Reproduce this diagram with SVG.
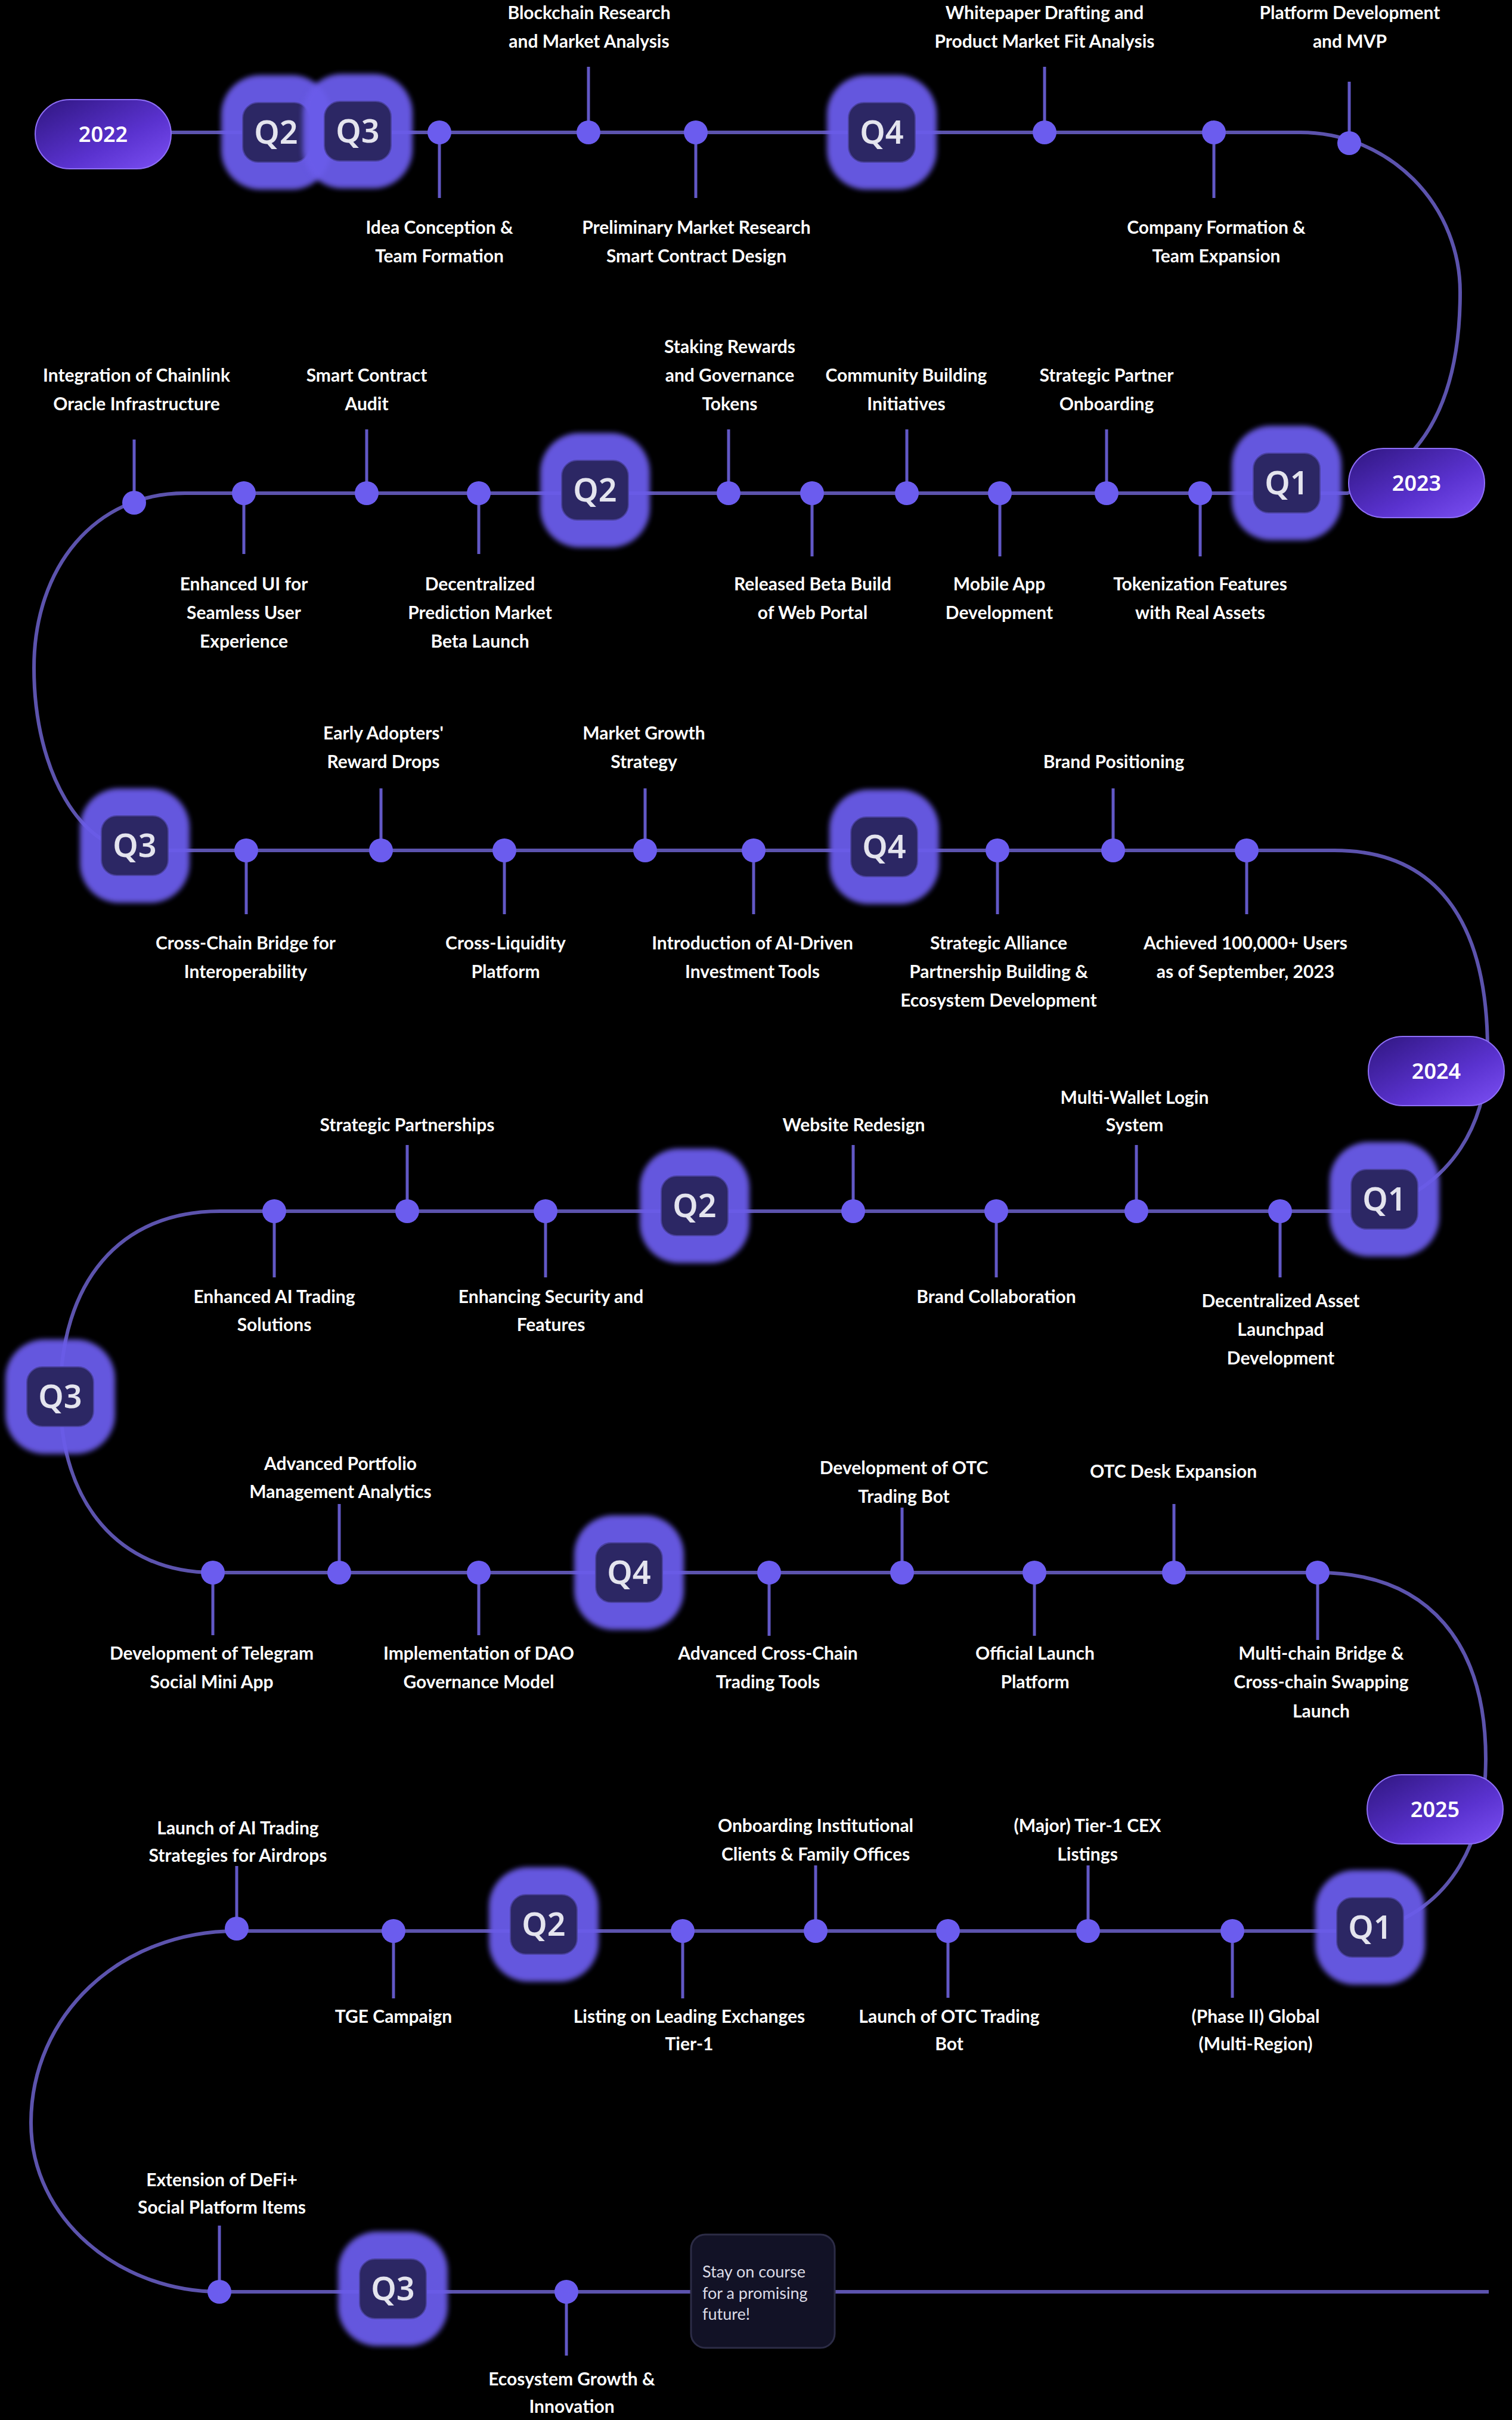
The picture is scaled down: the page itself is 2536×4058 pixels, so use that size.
<svg xmlns="http://www.w3.org/2000/svg" width="2536" height="4058" viewBox="0 0 2536 4058">
<defs>
<filter id="soft" x="-30%" y="-30%" width="160%" height="160%"><feGaussianBlur stdDeviation="4"/></filter>
<linearGradient id="pg" x1="0" y1="0" x2="1" y2="1"><stop offset="0" stop-color="#2f1680"/><stop offset="0.6" stop-color="#5a32cf"/><stop offset="1" stop-color="#7c50f4"/></linearGradient>
<style>
.ln{fill:none;stroke:#5c53ad;stroke-width:6}
.stem{stroke:#6258c6;stroke-width:5}
.dot{fill:#6b5cee}
.lbl{font-family:Lato,'Liberation Sans',sans-serif;font-weight:700;font-size:30px;fill:#ffffff;text-anchor:middle}
.glow{fill:#6b5cea;opacity:0.95;filter:url(#soft)}
.qin{fill:#2c2764;stroke:#4b42a0;stroke-width:2}
.qt{font-family:'Noto Sans',sans-serif;font-weight:600;font-size:54px;fill:#e4e4ee;text-anchor:middle}
.pill{fill:url(#pg);stroke:#8e6ff7;stroke-width:2}
.yt{font-family:'Noto Sans',sans-serif;font-weight:600;font-size:36px;fill:#ffffff;text-anchor:middle}
.box{fill:#121226;stroke:#2c2c46;stroke-width:3}
.bt{font-family:Lato,'Noto Sans',sans-serif;font-size:27px;fill:#dcdce6}
</style>
</defs>
<rect width="2536" height="4058" fill="#000"/>
<g id="connectors">
<path class="ln" d="M173,222 H2181 A268,268 0 0 1 2449,490 C2449,650 2400,780 2260,827 H310 C160,827 57,950 57,1120 C57,1300 140,1426 230,1426 H2238 C2420,1426 2495,1560 2495,1760 C2495,1880 2440,1990 2300,2031 H369 C200,2031 101,2150 101,2342 C101,2520 200,2637 357,2637 H2210 C2400,2637 2492,2760 2492,2950 C2492,3080 2440,3200 2300,3238 H397 C200,3238 52,3380 52,3560 C52,3720 200,3843 368,3843 H2497"/>
</g>
<!-- Row 1 milestones -->
<g id="m1a"><line class="stem" x1="737" y1="222" x2="737" y2="332"/><circle class="dot" cx="737" cy="222" r="20"/><text class="lbl"><tspan x="737" y="392">Idea Conception &amp;</tspan><tspan x="737" y="440">Team Formation</tspan></text></g>
<g id="m1b"><line class="stem" x1="987" y1="112" x2="987" y2="222"/><circle class="dot" cx="987" cy="222" r="20"/><text class="lbl"><tspan x="988" y="32">Blockchain Research</tspan><tspan x="988" y="80">and Market Analysis</tspan></text></g>
<g id="m1c"><line class="stem" x1="1167" y1="222" x2="1167" y2="332"/><circle class="dot" cx="1167" cy="222" r="20"/><text class="lbl"><tspan x="1168" y="392">Preliminary Market Research</tspan><tspan x="1168" y="440">Smart Contract Design</tspan></text></g>
<g id="m1d"><line class="stem" x1="1752" y1="112" x2="1752" y2="222"/><circle class="dot" cx="1752" cy="222" r="20"/><text class="lbl"><tspan x="1752" y="32">Whitepaper Drafting and</tspan><tspan x="1752" y="80">Product Market Fit Analysis</tspan></text></g>
<g id="m1e"><line class="stem" x1="2036" y1="222" x2="2036" y2="332"/><circle class="dot" cx="2036" cy="222" r="20"/><text class="lbl"><tspan x="2040" y="392">Company Formation &amp;</tspan><tspan x="2040" y="440">Team Expansion</tspan></text></g>
<g id="m1f"><line class="stem" x1="2263" y1="137" x2="2263" y2="240"/><circle class="dot" cx="2263" cy="240" r="20"/><text class="lbl"><tspan x="2264" y="32">Platform Development</tspan><tspan x="2264" y="80">and MVP</tspan></text></g>
<!-- Row 2 milestones -->
<g id="m2a"><line class="stem" x1="225" y1="737" x2="225" y2="843"/><circle class="dot" cx="225" cy="843" r="20"/><text class="lbl"><tspan x="229" y="640">Integration of Chainlink</tspan><tspan x="229" y="688">Oracle Infrastructure</tspan></text></g>
<g id="m2b"><line class="stem" x1="409" y1="827" x2="409" y2="929"/><circle class="dot" cx="409" cy="827" r="20"/><text class="lbl"><tspan x="409" y="990">Enhanced UI for</tspan><tspan x="409" y="1038">Seamless User</tspan><tspan x="409" y="1086">Experience</tspan></text></g>
<g id="m2c"><line class="stem" x1="615" y1="720" x2="615" y2="827"/><circle class="dot" cx="615" cy="827" r="20"/><text class="lbl"><tspan x="615" y="640">Smart Contract</tspan><tspan x="615" y="688">Audit</tspan></text></g>
<g id="m2d"><line class="stem" x1="803" y1="827" x2="803" y2="929"/><circle class="dot" cx="803" cy="827" r="20"/><text class="lbl"><tspan x="805" y="990">Decentralized</tspan><tspan x="805" y="1038">Prediction Market</tspan><tspan x="805" y="1086">Beta Launch</tspan></text></g>
<g id="m2e"><line class="stem" x1="1222" y1="720" x2="1222" y2="827"/><circle class="dot" cx="1222" cy="827" r="20"/><text class="lbl"><tspan x="1224" y="592">Staking Rewards</tspan><tspan x="1224" y="640">and Governance</tspan><tspan x="1224" y="688">Tokens</tspan></text></g>
<g id="m2f"><line class="stem" x1="1362" y1="827" x2="1362" y2="933"/><circle class="dot" cx="1362" cy="827" r="20"/><text class="lbl"><tspan x="1363" y="990">Released Beta Build</tspan><tspan x="1363" y="1038">of Web Portal</tspan></text></g>
<g id="m2g"><line class="stem" x1="1521" y1="720" x2="1521" y2="827"/><circle class="dot" cx="1521" cy="827" r="20"/><text class="lbl"><tspan x="1520" y="640">Community Building</tspan><tspan x="1520" y="688">Initiatives</tspan></text></g>
<g id="m2h"><line class="stem" x1="1677" y1="827" x2="1677" y2="933"/><circle class="dot" cx="1677" cy="827" r="20"/><text class="lbl"><tspan x="1676" y="990">Mobile App</tspan><tspan x="1676" y="1038">Development</tspan></text></g>
<g id="m2i"><line class="stem" x1="1856" y1="720" x2="1856" y2="827"/><circle class="dot" cx="1856" cy="827" r="20"/><text class="lbl"><tspan x="1856" y="640">Strategic Partner</tspan><tspan x="1856" y="688">Onboarding</tspan></text></g>
<g id="m2j"><line class="stem" x1="2013" y1="827" x2="2013" y2="933"/><circle class="dot" cx="2013" cy="827" r="20"/><text class="lbl"><tspan x="2013" y="990">Tokenization Features</tspan><tspan x="2013" y="1038">with Real Assets</tspan></text></g>
<!-- Row 3 milestones -->
<g id="m3a"><line class="stem" x1="413" y1="1426" x2="413" y2="1533"/><circle class="dot" cx="413" cy="1426" r="20"/><text class="lbl"><tspan x="412" y="1592">Cross-Chain Bridge for</tspan><tspan x="412" y="1640">Interoperability</tspan></text></g>
<g id="m3b"><line class="stem" x1="639" y1="1322" x2="639" y2="1426"/><circle class="dot" cx="639" cy="1426" r="20"/><text class="lbl"><tspan x="643" y="1240">Early Adopters'</tspan><tspan x="643" y="1288">Reward Drops</tspan></text></g>
<g id="m3c"><line class="stem" x1="846" y1="1426" x2="846" y2="1533"/><circle class="dot" cx="846" cy="1426" r="20"/><text class="lbl"><tspan x="848" y="1592">Cross-Liquidity</tspan><tspan x="848" y="1640">Platform</tspan></text></g>
<g id="m3d"><line class="stem" x1="1082" y1="1322" x2="1082" y2="1426"/><circle class="dot" cx="1082" cy="1426" r="20"/><text class="lbl"><tspan x="1080" y="1240">Market Growth</tspan><tspan x="1080" y="1288">Strategy</tspan></text></g>
<g id="m3e"><line class="stem" x1="1264" y1="1426" x2="1264" y2="1533"/><circle class="dot" cx="1264" cy="1426" r="20"/><text class="lbl"><tspan x="1262" y="1592">Introduction of AI-Driven</tspan><tspan x="1262" y="1640">Investment Tools</tspan></text></g>
<g id="m3f"><line class="stem" x1="1673" y1="1426" x2="1673" y2="1533"/><circle class="dot" cx="1673" cy="1426" r="20"/><text class="lbl"><tspan x="1675" y="1592">Strategic Alliance</tspan><tspan x="1675" y="1640">Partnership Building &amp;</tspan><tspan x="1675" y="1688">Ecosystem Development</tspan></text></g>
<g id="m3g"><line class="stem" x1="1867" y1="1322" x2="1867" y2="1426"/><circle class="dot" cx="1867" cy="1426" r="20"/><text class="lbl" x="1868" y="1288">Brand Positioning</text></g>
<g id="m3h"><line class="stem" x1="2091" y1="1426" x2="2091" y2="1533"/><circle class="dot" cx="2091" cy="1426" r="20"/><text class="lbl"><tspan x="2089" y="1592">Achieved 100,000+ Users</tspan><tspan x="2089" y="1640">as of September, 2023</tspan></text></g>
<!-- Row 4 milestones -->
<g id="m4a"><line class="stem" x1="460" y1="2031" x2="460" y2="2142"/><circle class="dot" cx="460" cy="2031" r="20"/><text class="lbl"><tspan x="460" y="2185">Enhanced AI Trading</tspan><tspan x="460" y="2232">Solutions</tspan></text></g>
<g id="m4b"><line class="stem" x1="683" y1="1920" x2="683" y2="2031"/><circle class="dot" cx="683" cy="2031" r="20"/><text class="lbl" x="683" y="1897">Strategic Partnerships</text></g>
<g id="m4c"><line class="stem" x1="915" y1="2031" x2="915" y2="2142"/><circle class="dot" cx="915" cy="2031" r="20"/><text class="lbl"><tspan x="924" y="2185">Enhancing Security and</tspan><tspan x="924" y="2232">Features</tspan></text></g>
<g id="m4d"><line class="stem" x1="1431" y1="1920" x2="1431" y2="2031"/><circle class="dot" cx="1431" cy="2031" r="20"/><text class="lbl" x="1432" y="1897">Website Redesign</text></g>
<g id="m4e"><line class="stem" x1="1671" y1="2031" x2="1671" y2="2142"/><circle class="dot" cx="1671" cy="2031" r="20"/><text class="lbl" x="1671" y="2185">Brand Collaboration</text></g>
<g id="m4f"><line class="stem" x1="1906" y1="1920" x2="1906" y2="2031"/><circle class="dot" cx="1906" cy="2031" r="20"/><text class="lbl"><tspan x="1903" y="1851">Multi-Wallet Login</tspan><tspan x="1903" y="1897">System</tspan></text></g>
<g id="m4g"><line class="stem" x1="2147" y1="2031" x2="2147" y2="2142"/><circle class="dot" cx="2147" cy="2031" r="20"/><text class="lbl"><tspan x="2148" y="2192">Decentralized Asset</tspan><tspan x="2148" y="2240">Launchpad</tspan><tspan x="2148" y="2288">Development</tspan></text></g>
<!-- Row 5 milestones -->
<g id="m5a"><line class="stem" x1="357" y1="2637" x2="357" y2="2742"/><circle class="dot" cx="357" cy="2637" r="20"/><text class="lbl"><tspan x="355" y="2783">Development of Telegram</tspan><tspan x="355" y="2831">Social Mini App</tspan></text></g>
<g id="m5b"><line class="stem" x1="569" y1="2522" x2="569" y2="2637"/><circle class="dot" cx="569" cy="2637" r="20"/><text class="lbl"><tspan x="571" y="2465">Advanced Portfolio</tspan><tspan x="571" y="2512">Management Analytics</tspan></text></g>
<g id="m5c"><line class="stem" x1="803" y1="2637" x2="803" y2="2742"/><circle class="dot" cx="803" cy="2637" r="20"/><text class="lbl"><tspan x="803" y="2783">Implementation of DAO</tspan><tspan x="803" y="2831">Governance Model</tspan></text></g>
<g id="m5d"><line class="stem" x1="1290" y1="2637" x2="1290" y2="2743"/><circle class="dot" cx="1290" cy="2637" r="20"/><text class="lbl"><tspan x="1288" y="2783">Advanced Cross-Chain</tspan><tspan x="1288" y="2831">Trading Tools</tspan></text></g>
<g id="m5e"><line class="stem" x1="1513" y1="2528" x2="1513" y2="2637"/><circle class="dot" cx="1513" cy="2637" r="20"/><text class="lbl"><tspan x="1516" y="2472">Development of OTC</tspan><tspan x="1516" y="2520">Trading Bot</tspan></text></g>
<g id="m5f"><line class="stem" x1="1735" y1="2637" x2="1735" y2="2743"/><circle class="dot" cx="1735" cy="2637" r="20"/><text class="lbl"><tspan x="1736" y="2783">Official Launch</tspan><tspan x="1736" y="2831">Platform</tspan></text></g>
<g id="m5g"><line class="stem" x1="1969" y1="2522" x2="1969" y2="2637"/><circle class="dot" cx="1969" cy="2637" r="20"/><text class="lbl" x="1968" y="2478">OTC Desk Expansion</text></g>
<g id="m5h"><line class="stem" x1="2210" y1="2637" x2="2210" y2="2750"/><circle class="dot" cx="2210" cy="2637" r="20"/><text class="lbl"><tspan x="2216" y="2783">Multi-chain Bridge &amp;</tspan><tspan x="2216" y="2831">Cross-chain Swapping</tspan><tspan x="2216" y="2880">Launch</tspan></text></g>
<!-- Row 6 milestones -->
<g id="m6a"><line class="stem" x1="397" y1="3129" x2="397" y2="3234"/><circle class="dot" cx="397" cy="3234" r="20"/><text class="lbl"><tspan x="399" y="3076">Launch of AI Trading</tspan><tspan x="399" y="3122">Strategies for Airdrops</tspan></text></g>
<g id="m6b"><line class="stem" x1="660" y1="3238" x2="660" y2="3351"/><circle class="dot" cx="660" cy="3238" r="20"/><text class="lbl" x="660" y="3392">TGE Campaign</text></g>
<g id="m6c"><line class="stem" x1="1145" y1="3238" x2="1145" y2="3351"/><circle class="dot" cx="1145" cy="3238" r="20"/><text class="lbl"><tspan x="1156" y="3392">Listing on Leading Exchanges</tspan><tspan x="1156" y="3438">Tier-1</tspan></text></g>
<g id="m6d"><line class="stem" x1="1368" y1="3128" x2="1368" y2="3238"/><circle class="dot" cx="1368" cy="3238" r="20"/><text class="lbl"><tspan x="1368" y="3072">Onboarding Institutional</tspan><tspan x="1368" y="3120">Clients &amp; Family Offices</tspan></text></g>
<g id="m6e"><line class="stem" x1="1590" y1="3238" x2="1590" y2="3350"/><circle class="dot" cx="1590" cy="3238" r="20"/><text class="lbl"><tspan x="1592" y="3392">Launch of OTC Trading</tspan><tspan x="1592" y="3438">Bot</tspan></text></g>
<g id="m6f"><line class="stem" x1="1825" y1="3128" x2="1825" y2="3238"/><circle class="dot" cx="1825" cy="3238" r="20"/><text class="lbl"><tspan x="1824" y="3072">(Major) Tier-1 CEX</tspan><tspan x="1824" y="3120">Listings</tspan></text></g>
<g id="m6g"><line class="stem" x1="2067" y1="3238" x2="2067" y2="3350"/><circle class="dot" cx="2067" cy="3238" r="20"/><text class="lbl"><tspan x="2106" y="3392">(Phase II) Global</tspan><tspan x="2106" y="3438">(Multi-Region)</tspan></text></g>
<!-- Row 7 milestones -->
<g id="m7a"><line class="stem" x1="368" y1="3732" x2="368" y2="3843"/><circle class="dot" cx="368" cy="3843" r="20"/><text class="lbl"><tspan x="372" y="3666">Extension of DeFi+</tspan><tspan x="372" y="3712">Social Platform Items</tspan></text></g>
<g id="m7b"><line class="stem" x1="950" y1="3843" x2="950" y2="3950"/><circle class="dot" cx="950" cy="3843" r="20"/><text class="lbl"><tspan x="959" y="4000">Ecosystem Growth &amp;</tspan><tspan x="959" y="4046">Innovation</tspan></text></g>
<!-- Quarter badges -->
<g id="q2022-2" transform="translate(463,222)"><rect class="glow" x="-92" y="-96" width="184" height="192" rx="66"/><rect class="qin" x="-56" y="-50" width="112" height="100" rx="26"/><text class="qt" y="19">Q2</text></g>
<g id="q2022-3" transform="translate(600,220)"><rect class="glow" x="-92" y="-96" width="184" height="192" rx="66"/><rect class="qin" x="-56" y="-50" width="112" height="100" rx="26"/><text class="qt" y="19">Q3</text></g>
<g id="q2022-4" transform="translate(1479,222)"><rect class="glow" x="-92" y="-96" width="184" height="192" rx="66"/><rect class="qin" x="-56" y="-50" width="112" height="100" rx="26"/><text class="qt" y="19">Q4</text></g>
<g id="q2023-1" transform="translate(2158,810)"><rect class="glow" x="-92" y="-96" width="184" height="192" rx="66"/><rect class="qin" x="-56" y="-50" width="112" height="100" rx="26"/><text class="qt" y="19">Q1</text></g>
<g id="q2023-2" transform="translate(998,822)"><rect class="glow" x="-92" y="-96" width="184" height="192" rx="66"/><rect class="qin" x="-56" y="-50" width="112" height="100" rx="26"/><text class="qt" y="19">Q2</text></g>
<g id="q2023-3" transform="translate(226,1418)"><rect class="glow" x="-92" y="-96" width="184" height="192" rx="66"/><rect class="qin" x="-56" y="-50" width="112" height="100" rx="26"/><text class="qt" y="19">Q3</text></g>
<g id="q2023-4" transform="translate(1483,1420)"><rect class="glow" x="-92" y="-96" width="184" height="192" rx="66"/><rect class="qin" x="-56" y="-50" width="112" height="100" rx="26"/><text class="qt" y="19">Q4</text></g>
<g id="q2024-1" transform="translate(2322,2011)"><rect class="glow" x="-92" y="-96" width="184" height="192" rx="66"/><rect class="qin" x="-56" y="-50" width="112" height="100" rx="26"/><text class="qt" y="19">Q1</text></g>
<g id="q2024-2" transform="translate(1165,2022)"><rect class="glow" x="-92" y="-96" width="184" height="192" rx="66"/><rect class="qin" x="-56" y="-50" width="112" height="100" rx="26"/><text class="qt" y="19">Q2</text></g>
<g id="q2024-3" transform="translate(101,2342)"><rect class="glow" x="-92" y="-96" width="184" height="192" rx="66"/><rect class="qin" x="-56" y="-50" width="112" height="100" rx="26"/><text class="qt" y="19">Q3</text></g>
<g id="q2024-4" transform="translate(1055,2637)"><rect class="glow" x="-92" y="-96" width="184" height="192" rx="66"/><rect class="qin" x="-56" y="-50" width="112" height="100" rx="26"/><text class="qt" y="19">Q4</text></g>
<g id="q2025-1" transform="translate(2298,3232)"><rect class="glow" x="-92" y="-96" width="184" height="192" rx="66"/><rect class="qin" x="-56" y="-50" width="112" height="100" rx="26"/><text class="qt" y="19">Q1</text></g>
<g id="q2025-2" transform="translate(912,3227)"><rect class="glow" x="-92" y="-96" width="184" height="192" rx="66"/><rect class="qin" x="-56" y="-50" width="112" height="100" rx="26"/><text class="qt" y="19">Q2</text></g>
<g id="q2025-3" transform="translate(659,3838)"><rect class="glow" x="-92" y="-96" width="184" height="192" rx="66"/><rect class="qin" x="-56" y="-50" width="112" height="100" rx="26"/><text class="qt" y="19">Q3</text></g>
<!-- Year pills -->
<g id="y2022" transform="translate(173,225)"><rect class="pill" x="-114" y="-58" width="228" height="116" rx="58"/><text class="yt" y="13">2022</text></g>
<g id="y2023" transform="translate(2376,810)"><rect class="pill" x="-114" y="-58" width="228" height="116" rx="58"/><text class="yt" y="13">2023</text></g>
<g id="y2024" transform="translate(2409,1796)"><rect class="pill" x="-114" y="-58" width="228" height="116" rx="58"/><text class="yt" y="13">2024</text></g>
<g id="y2025" transform="translate(2407,3034)"><rect class="pill" x="-114" y="-58" width="228" height="116" rx="58"/><text class="yt" y="13">2025</text></g>
<!-- End box -->
<g id="end"><rect class="box" x="1159" y="3747" width="241" height="190" rx="24"/><text class="bt"><tspan x="1178" y="3819">Stay on course</tspan><tspan x="1178" y="3855">for a promising</tspan><tspan x="1178" y="3890">future!</tspan></text></g>
</svg>
